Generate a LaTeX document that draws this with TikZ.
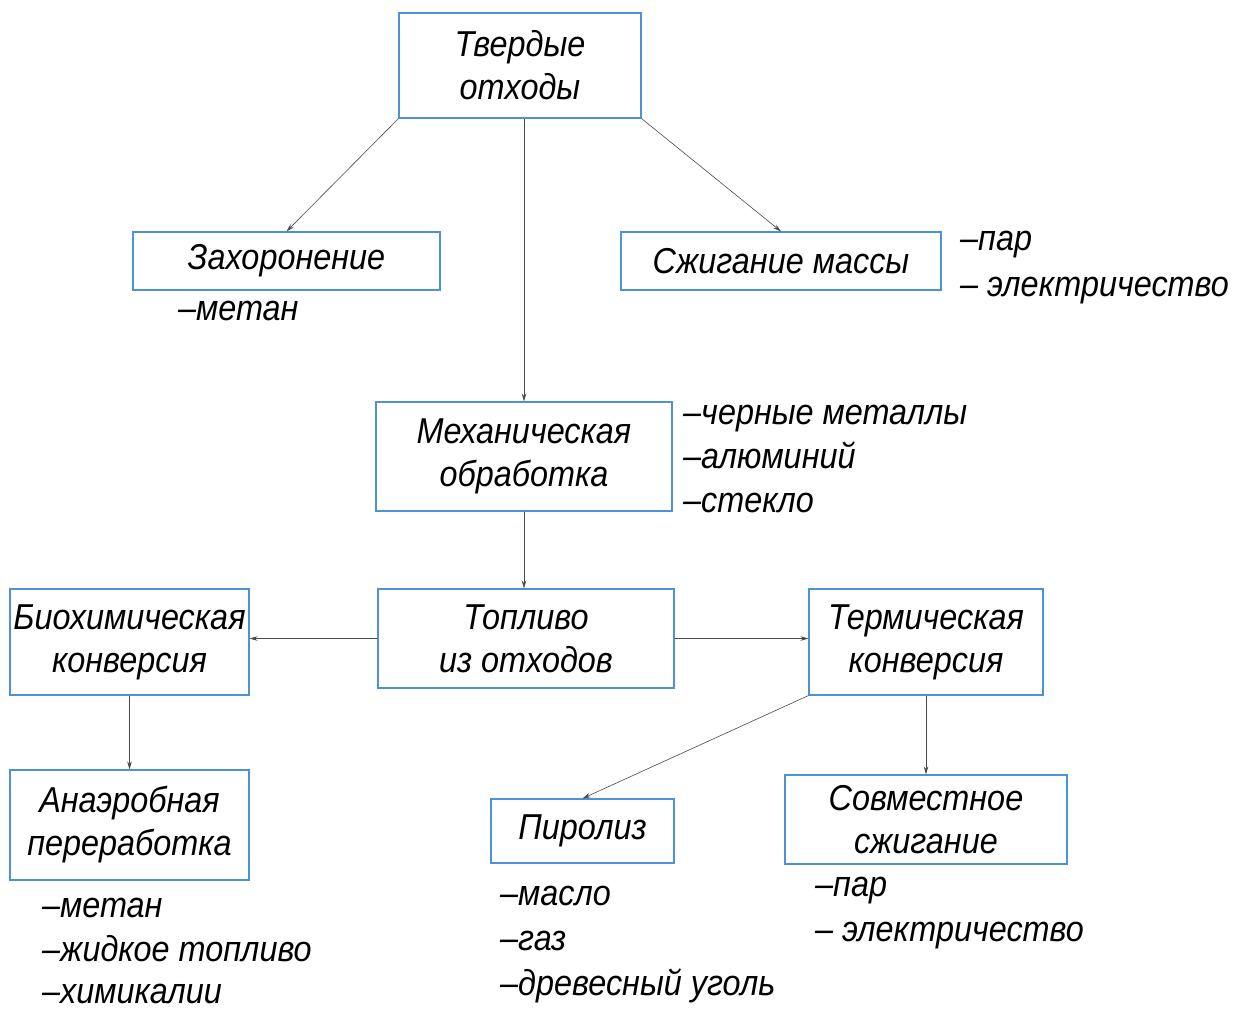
\documentclass[tikz,border=0pt]{standalone}
\usepackage{fontspec}
\setmainfont{Liberation Sans}[ItalicFeatures={FakeStretch=0.9}]
\usetikzlibrary{arrows.meta}
\definecolor{boxblue}{HTML}{4A94D6}
\definecolor{linegray}{HTML}{4A4A4A}
\begin{document}
\begin{tikzpicture}[x=1pt,y=-1pt,
  box/.style={draw=boxblue,line width=1.1pt,inner sep=0pt,align=center,
    font=\fontsize{36}{43}\selectfont\itshape},
  lbl/.style={anchor=base west,inner sep=0pt,font=\fontsize{36}{43}\selectfont\itshape},
  conn/.style={draw=linegray,line width=0.6pt,-{Stealth[length=8pt,width=4.5pt]}}]
\useasboundingbox[fill=white] (0,0) rectangle (1233,1012);
\node[box,minimum width=242pt,minimum height=105pt] (tv) at (520,65.5) {Твердые\\отходы};
\node[box,minimum width=307pt,minimum height=58pt] (zah) at (286.5,261) {Захоронение};
\node[box,minimum width=320pt,minimum height=58pt] (szh) at (781,261) {Сжигание массы};
\node[box,minimum width=296pt,minimum height=109pt] (mex) at (524,456.5) {Механическая\\обработка};
\node[box,minimum width=296pt,minimum height=99pt] (top) at (526,638.5) {Топливо\\из отходов};
\node[box,minimum width=239pt,minimum height=106pt] (bio) at (129.5,642) {Биохимическая\\конверсия};
\node[box,minimum width=234pt,minimum height=106pt] (ter) at (926,642) {Термическая\\конверсия};
\node[box,minimum width=239pt,minimum height=110pt] (ana) at (129.5,825) {Анаэробная\\переработка};
\node[box,minimum width=183pt,minimum height=64pt] (pir) at (582.5,831) {Пиролиз};
\node[box,minimum width=282pt,minimum height=89pt] (sov) at (926,819.5) {Совместное\\сжигание};

\draw[conn] (tv.south west) -- (zah.north);
\draw[conn] (tv.south east) -- (szh.north);
\draw[conn] (tv.south -| mex.north) -- (mex.north);
\draw[conn] (mex.south) -- (mex.south |- top.north);
\draw[conn] (top.west) -- (top.west -| bio.east);
\draw[conn] (top.east) -- (top.east -| ter.west);
\draw[conn] (bio.south) -- (ana.north);
\draw[conn] (ter.south west) -- (pir.north);
\draw[conn] (ter.south) -- (ter.south |- sov.north);

\node[lbl] (l1) at (178,320) {–метан};
\node[lbl] (l2) at (960,250) {–пар};
\node[lbl] (l3) at (960,296) {– электричество};
\node[lbl] (l4) at (683,424) {–черные металлы};
\node[lbl] (l5) at (683,468) {–алюминий};
\node[lbl] (l6) at (683,512) {–стекло};
\node[lbl] (l7) at (42,917) {–метан};
\node[lbl] (l8) at (42,961) {–жидкое топливо};
\node[lbl] (l9) at (42,1003) {–химикалии};
\node[lbl] (l10) at (500,905) {–масло};
\node[lbl] (l11) at (500,950) {–газ};
\node[lbl] (l12) at (500,995) {–древесный уголь};
\node[lbl] (l13) at (815,896) {–пар};
\node[lbl] (l14) at (815,941) {– электричество};
\end{tikzpicture}
\end{document}
